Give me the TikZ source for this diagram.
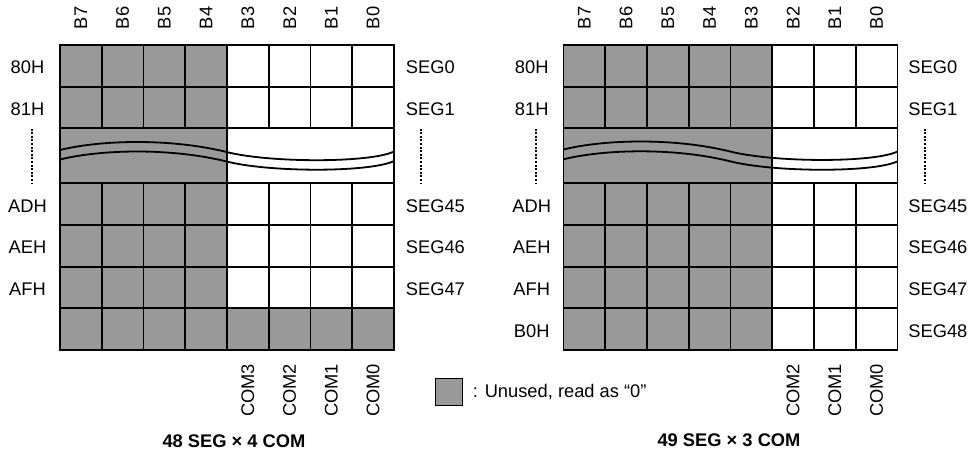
\documentclass[tikz,border=0pt]{standalone}
\usepackage{fontspec}
\setmainfont{Liberation Sans}
\definecolor{cellgray}{HTML}{999999}
\begin{document}
\begin{tikzpicture}[x=1pt,y=-1pt,line width=1.8pt,
  txt/.style={inner sep=0pt,font=\fontsize{18.3}{22}\selectfont},
  ttl/.style={inner sep=0pt,font=\fontsize{18.3}{22}\selectfont\bfseries},
  vtop/.style={txt,rotate=90,anchor=west},
  vbot/.style={txt,rotate=90,anchor=east},
  seglbl/.style={txt,anchor=west},
  dotline/.style={line width=2pt,dash pattern=on 2pt off 1.6pt},
  wave/.style={line width=1.8pt}]
\useasboundingbox (0,0) rectangle (973,451);

% ---------------- left grid ----------------
\fill[cellgray] (60,45) rectangle (227,350);
\fill[cellgray] (227,308.3) rectangle (394,350);
\foreach \y in {86.7,128.3,183.3,225,266.7,308.3} \draw (60,\y) -- (394,\y);
\foreach \x in {101.75,143.5,185.25,268.75,310.5,352.25} {
  \draw (\x,45) -- (\x,128.3);
  \draw (\x,183.3) -- (\x,350);
}
\draw (227,45) -- (227,350);
\draw[wave] (60,150) .. controls (100,140) and (170,138) .. (226.7,152)
  .. controls (270,163) and (370,163) .. (394,151.5);
\draw[wave] (60,159.5) .. controls (100,149.5) and (170,147.5) .. (226.7,161.5)
  .. controls (270,172.5) and (370,172.5) .. (394,161);
\draw (60,45) rectangle (394,350);

\foreach \t [count=\i from 0] in {B7,B6,B5,B4,B3,B2,B1,B0}
  \node[vtop] (lt\i) at ({80.9+41.75*\i},30) {\t};
\node[txt] (l80) at (27.5,67.4) {80H};
\node[txt] (l81) at (27.5,109) {81H};
\node[txt] (lad) at (27.5,205.7) {ADH};
\node[txt] (lae) at (27.5,247.3) {AEH};
\node[txt] (laf) at (27.5,289) {AFH};
\node[seglbl] (ls0) at (405,67.4) {SEG0};
\node[seglbl] (ls1) at (405,109) {SEG1};
\node[seglbl] (ls45) at (405,205.7) {SEG45};
\node[seglbl] (ls46) at (405,247.3) {SEG46};
\node[seglbl] (ls47) at (405,289) {SEG47};
\coordinate (ld1a) at (31.7,128.5); \coordinate (ld1b) at (31.7,183);
\coordinate (ld2a) at (420.7,128.5); \coordinate (ld2b) at (420.7,183);
\draw[dotline] (ld1a) -- (ld1b);
\draw[dotline] (ld2a) -- (ld2b);
\node[vbot] (lc3) at (247.9,363) {COM3};
\node[vbot] (lc2) at (289.6,363) {COM2};
\node[vbot] (lc1) at (331.4,363) {COM1};
\node[vbot] (lc0) at (373.1,363) {COM0};
\node[ttl] (ltitle) at (234,441.5) {48 SEG × 4 COM};

% ---------------- right grid ----------------
\fill[cellgray] (563.5,45) rectangle (772.25,350);
\foreach \y in {86.7,128.3,183.3,225,266.7,308.3} \draw (563.5,\y) -- (897.5,\y);
\foreach \x in {605.25,647,688.75,730.5,814,855.75} {
  \draw (\x,45) -- (\x,128.3);
  \draw (\x,183.3) -- (\x,350);
}
\draw (772.25,45) -- (772.25,350);
\draw[wave] (563.5,149.5) .. controls (603.5,139.5) and (673.5,137.5) .. (730.2,151.5)
  .. controls (773.5,162.5) and (873.5,163) .. (897.5,151.5);
\draw[wave] (563.5,159.3) .. controls (603.5,149.3) and (673.5,147.3) .. (730.2,161.3)
  .. controls (773.5,172.3) and (873.5,172.8) .. (897.5,161.3);
\draw (563.5,45) rectangle (897.5,350);

\foreach \t [count=\i from 0] in {B7,B6,B5,B4,B3,B2,B1,B0}
  \node[vtop] (rt\i) at ({584.4+41.75*\i},30) {\t};
\node[txt] (r80) at (531.7,67.4) {80H};
\node[txt] (r81) at (531.7,109) {81H};
\node[txt] (rad) at (531.7,205.7) {ADH};
\node[txt] (rae) at (531.7,247.3) {AEH};
\node[txt] (raf) at (531.7,289) {AFH};
\node[txt] (rb0) at (531.7,330.7) {B0H};
\node[seglbl] (rs0) at (907.5,67.4) {SEG0};
\node[seglbl] (rs1) at (907.5,109) {SEG1};
\node[seglbl] (rs45) at (907.5,205.7) {SEG45};
\node[seglbl] (rs46) at (907.5,247.3) {SEG46};
\node[seglbl] (rs47) at (907.5,289) {SEG47};
\node[seglbl] (rs48) at (907.5,330.7) {SEG48};
\coordinate (rd1a) at (535.7,128.5); \coordinate (rd1b) at (535.7,183);
\coordinate (rd2a) at (925,128.5); \coordinate (rd2b) at (925,183);
\draw[dotline] (rd1a) -- (rd1b);
\draw[dotline] (rd2a) -- (rd2b);
\node[vbot] (rc2) at (793.1,363) {COM2};
\node[vbot] (rc1) at (834.9,363) {COM1};
\node[vbot] (rc0) at (876.6,363) {COM0};
\node[ttl] (rtitle) at (729,440) {49 SEG × 3 COM};

% ---------------- legend ----------------
\node[draw,fill=cellgray,minimum width=27pt,minimum height=27pt,inner sep=0pt] (legbox) at (449,392) {};
\node[txt,anchor=west] (legtxt) at (472,392) {: Unused, read as “0”};
\end{tikzpicture}
\end{document}
